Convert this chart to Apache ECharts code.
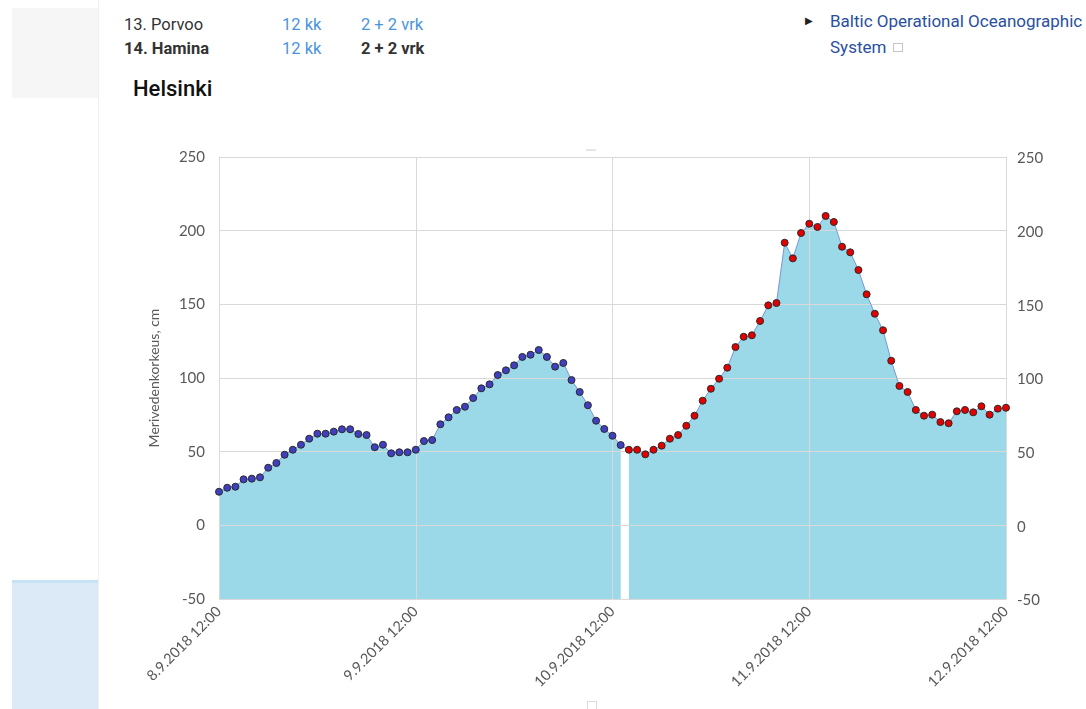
<!DOCTYPE html>
<html>
<head>
<meta charset="utf-8">
<script src="https://cdn.jsdelivr.net/npm/echarts@6/dist/echarts.min.js"></script>
<style>
  html, body { margin: 0; padding: 0; background: #fff; width: 1086px; height: 709px; overflow: hidden; font-family: Roboto, "Noto Sans", sans-serif; }
  #chart { position: absolute; left: 0; top: 0; width: 1086px; height: 709px; }
  .side { position: absolute; left: 0; top: 0; width: 98px; height: 709px; border-right: 1px solid #f0f0f0; }
  .graybox { position: absolute; left: 12px; top: 8px; width: 86px; height: 90px; background: #f6f6f6; }
  .bluebox { position: absolute; left: 12px; top: 580px; width: 86px; height: 129px; background: #dbeaf6; border-top: 3px solid #c6e2f5; }
  .row { position: absolute; left: 124px; font-size: 16.5px; color: #333; white-space: nowrap; }
  .row span { position: absolute; top: 0; }
  .blue { color: #4a94dc; }
  .title { position: absolute; left: 133px; top: 76px; font-size: 22px; font-weight: 500; color: #111; }
  .link { position: absolute; left: 830px; top: 8px; font-size: 17px; color: #2a4f9f; line-height: 26px; white-space: nowrap; }
  .tri { position: absolute; left: 805px; top: 15px; font-size: 10px; color: #222; }
  .ext { display: inline-block; width: 8px; height: 7px; border: 1px solid #c4c4c4; margin-left: 7px; vertical-align: 1px; }
  .handle1 { position: absolute; left: 586px; top: 149px; width: 10px; height: 2px; background: #e6e6e6; }
  .handle2 { position: absolute; left: 587px; top: 701px; width: 8px; height: 8px; border: 1px solid #ddd; border-bottom: none; }
</style>
</head>
<body>
<div class="side"></div>
<div class="graybox"></div>
<div class="bluebox"></div>
<div class="row" style="top:15px;"><span style="left:0">13. Porvoo</span><span class="blue" style="left:158px">12 kk</span><span class="blue" style="left:237px">2 + 2 vrk</span></div>
<div class="row" style="top:39px; font-weight:bold;"><span style="left:0">14. Hamina</span><span class="blue" style="left:158px; font-weight:normal">12 kk</span><span style="left:237px">2 + 2 vrk</span></div>
<div class="title">Helsinki</div>
<div class="tri">&#9654;</div>
<div class="link">Baltic Operational Oceanographic<br>System<span class="ext"></span></div>
<div id="chart"></div>
<div class="handle1"></div>
<div class="handle2"></div>
<script>
// Tick labels for the x axis (one every 24 hours, starting 8.9.2018 12:00)
const tickLabels = ["8.9.2018 12:00", "9.9.2018 12:00", "10.9.2018 12:00", "11.9.2018 12:00", "12.9.2018 12:00"];
const yTicks = [-50, 0, 50, 100, 150, 200, 250];

// Observed sea level (cm), hourly from 8.9.2018 12:00
const observed = [22.8, 25.5, 26.2, 31.2, 31.7, 32.6, 39.1, 42.3, 47.9, 51.3,
  54.7, 58.8, 62.2, 62.2, 63.6, 65.2, 65.2, 62.0, 61.3, 53.0,
  54.7, 48.9, 49.6, 49.6, 51.3, 57.2, 57.9, 68.6, 73.3, 78.3,
  80.5, 86.4, 93.0, 95.7, 102.0, 105.2, 108.6, 114.3, 115.8, 119.0,
  114.3, 107.7, 110.2, 98.6, 90.5, 81.5, 71.0, 65.4, 60.8, 54.5];

// Forecast sea level (cm), hourly, continuing after the observations
const forecast = [51.3, 51.3, 48.2, 51.3, 54.1, 58.8, 61.3, 67.6, 74.4, 84.6,
  92.7, 99.5, 107.0, 121.0, 128.0, 129.0, 138.7, 149.3, 150.9, 191.8,
  181.2, 198.4, 204.7, 202.5, 210.0, 205.9, 189.1, 185.3, 173.3, 156.8,
  143.6, 132.4, 111.7, 94.6, 90.5, 78.3, 74.4, 75.1, 70.1, 69.3,
  77.4, 78.3, 76.7, 80.8, 75.1, 79.2, 79.8];

const obsPts = observed.map((v, i) => [i, v]);
const fcPts = forecast.map((v, i) => [observed.length + i, v]);
const allPts = obsPts.concat(fcPts);

const FONT = 'Lato';
const LBL = '#595959';
const GRID = '#d9d9d9';

const chart = echarts.init(document.getElementById('chart'), null, { renderer: 'canvas' });
chart.setOption({
  animation: false,
  grid: { left: 219, right: 80, top: 157, bottom: 110, containLabel: false },
  xAxis: {
    type: 'value', min: 0, max: 96, interval: 24, z: 2,
    axisLine: { show: true, lineStyle: { color: GRID } },
    axisTick: { show: false },
    splitLine: { show: true, lineStyle: { color: GRID, width: 1 } },
    axisLabel: { rotate: 45, margin: 10, color: LBL, fontFamily: FONT, fontSize: 14.5,
      formatter: v => tickLabels[Math.round(v / 24)] }
  },
  yAxis: [{
    type: 'value', min: -50, max: 250, interval: 50, z: 2,
    name: 'Merivedenkorkeus, cm', nameLocation: 'middle', nameGap: 58,
    nameTextStyle: { color: LBL, fontFamily: FONT, fontSize: 14 },
    axisLine: { show: true, lineStyle: { color: GRID } },
    axisTick: { show: false },
    splitLine: { show: true, lineStyle: { color: GRID, width: 1 } },
    axisLabel: { color: LBL, fontFamily: FONT, fontSize: 15, margin: 14,
      formatter: v => yTicks.includes(v) ? String(v) : '' }
  }, {
    type: 'value', min: -50, max: 250, interval: 50, position: 'right', z: 2,
    axisLine: { show: true, lineStyle: { color: GRID } },
    axisTick: { show: false },
    splitLine: { show: false },
    axisLabel: { color: LBL, fontFamily: FONT, fontSize: 15, margin: 11, verticalAlign: 'top', padding: [-6, 0, 0, 0],
      formatter: v => yTicks.includes(v) ? String(v) : '' }
  }],
  series: [
    { type: 'line', data: obsPts, z: 1, symbol: 'none', silent: true,
      lineStyle: { width: 0 }, areaStyle: { color: '#9bd8e8', opacity: 1, origin: 'start' } },
    { type: 'line', data: fcPts, z: 1, symbol: 'none', silent: true,
      lineStyle: { width: 0 }, areaStyle: { color: '#9bd8e8', opacity: 1, origin: 'start' } },
    { type: 'line', data: allPts, z: 5, symbol: 'circle', symbolSize: 7,
      lineStyle: { color: '#7896d8', width: 1 },
      itemStyle: { color: p => p.dataIndex < observed.length ? '#3f3fbf' : '#e20000',
        borderColor: '#2a2a2a', borderWidth: 1 } }
  ]
});
</script>
</body>
</html>
